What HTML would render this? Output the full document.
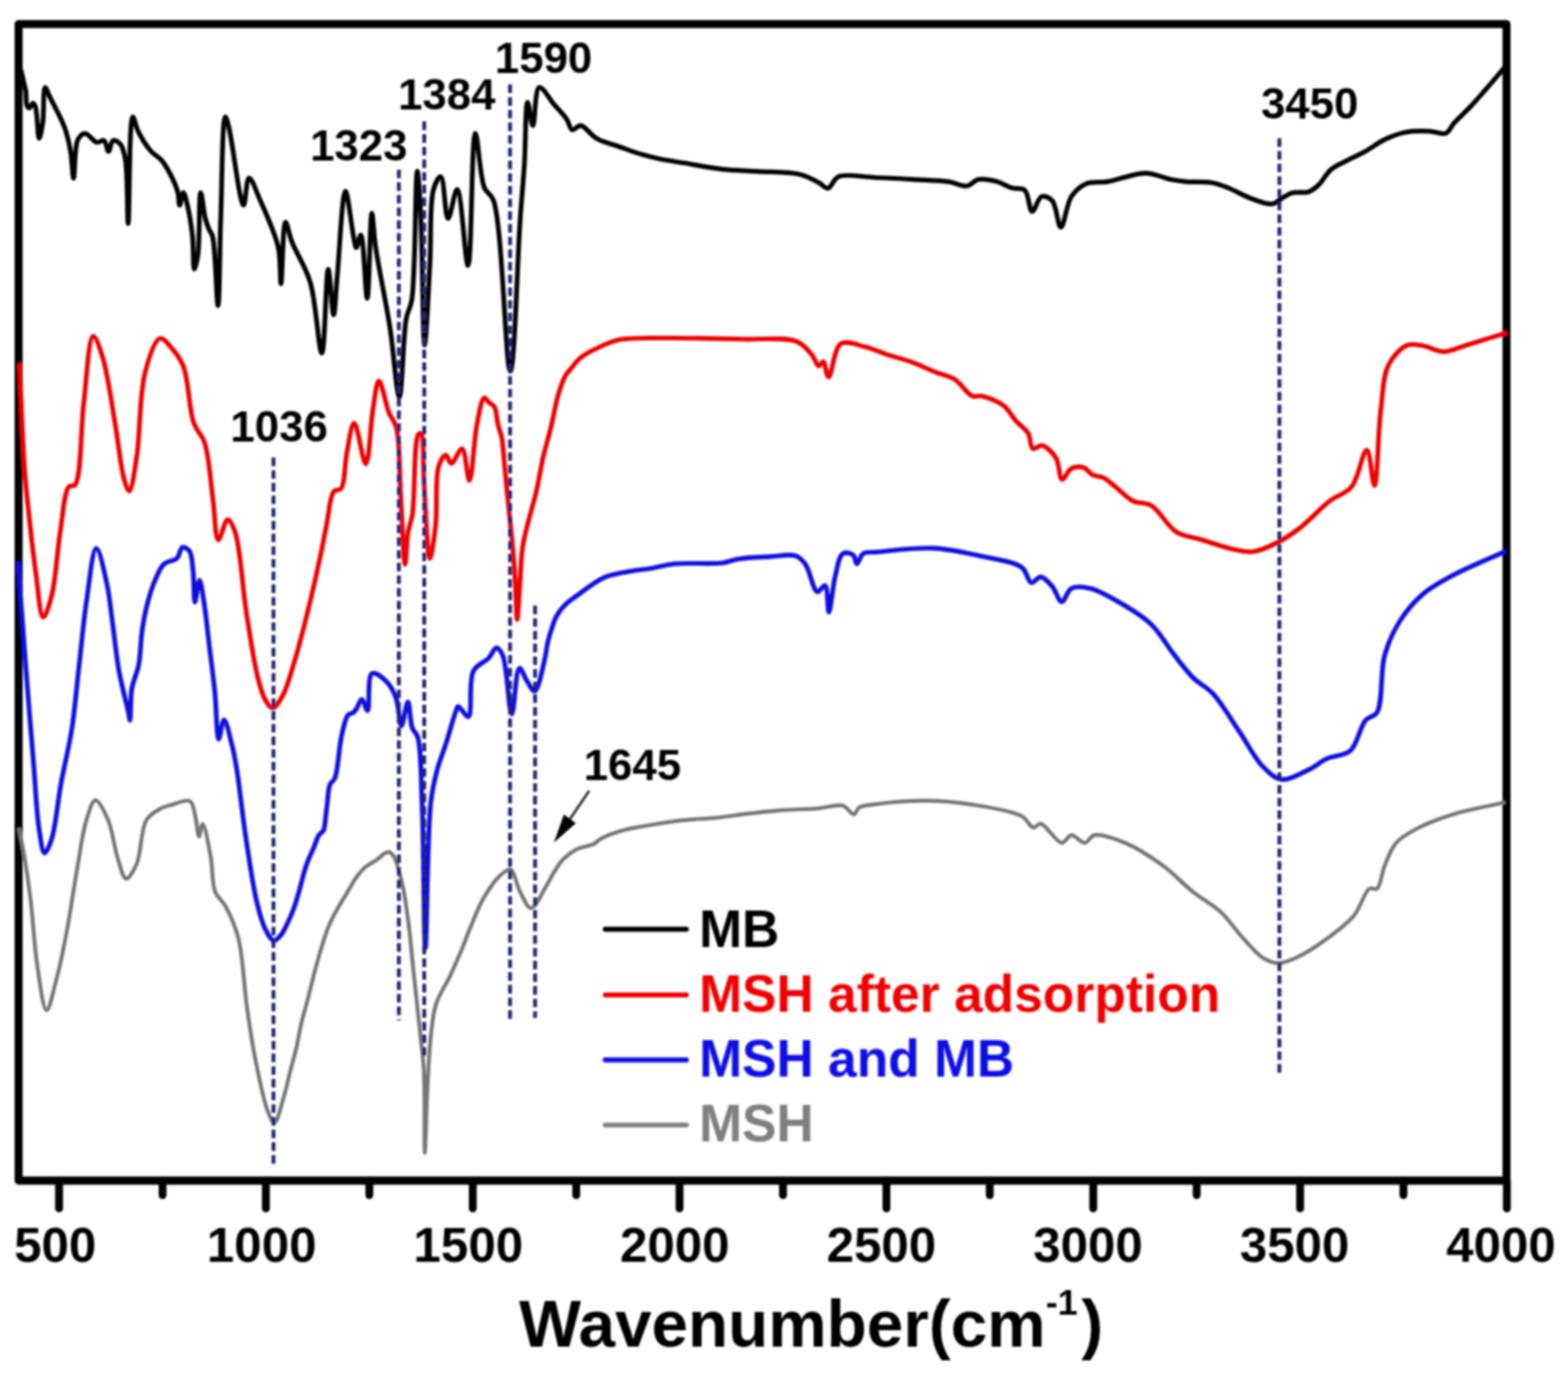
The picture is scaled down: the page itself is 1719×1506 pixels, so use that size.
<!DOCTYPE html><html><head><meta charset="utf-8"><title>FTIR spectra</title>
<style>html,body{margin:0;padding:0;background:#fff;}svg{display:block;}text{font-family:"Liberation Sans",Arial,sans-serif;font-weight:bold;}</style></head><body>
<svg width="1719" height="1506" viewBox="0 0 1719 1506">
<rect x="0" y="0" width="1719" height="1506" fill="#ffffff"/>
<defs><filter id="soft" filterUnits="userSpaceOnUse" x="0" y="0" width="1719" height="1506"><feGaussianBlur stdDeviation="0.90"/></filter></defs>
<g filter="url(#soft)">
<rect x="20.4" y="26.4" width="1631.2" height="1267.6" fill="none" stroke="#000" stroke-width="8.8" stroke-linejoin="round"/>
<path fill="none" stroke="#747474" stroke-width="4.2" stroke-linejoin="round" stroke-linecap="round" d="M21.0,909.0 C22.9,918.7 24.8,927.1 26.6,938.0 C29.0,952.1 31.4,968.8 33.6,986.5 C36.2,1007.6 37.4,1034.8 40.6,1056.2 C43.4,1074.6 47.1,1107.1 51.0,1107.3 C54.2,1107.5 58.2,1087.1 61.5,1074.8 C65.7,1059.3 69.5,1040.4 73.1,1021.3 C77.2,999.6 80.9,973.2 84.7,951.6 C88.0,932.8 90.4,912.6 94.7,899.0 C97.6,889.9 100.7,877.4 104.6,877.1 C108.6,876.8 114.8,890.2 118.6,899.0 C123.4,910.2 125.1,928.4 128.9,940.0 C131.8,948.9 134.4,962.7 138.2,963.2 C141.5,963.6 146.6,954.3 149.8,947.0 C154.9,935.6 154.3,909.1 160.4,899.0 C164.1,892.8 169.5,890.0 174.4,887.1 C178.8,884.5 183.2,883.5 188.3,882.1 C194.3,880.4 203.9,875.7 208.2,878.1 C212.3,880.4 212.6,889.0 214.2,895.1 C216.0,901.9 216.7,916.9 218.2,917.0 C219.4,917.1 220.7,903.0 222.2,903.0 C224.7,903.1 228.8,927.6 231.1,940.0 C233.4,952.3 232.1,967.7 235.8,977.2 C238.5,984.2 243.7,986.8 247.4,993.5 C252.4,1002.7 257.7,1014.2 261.3,1028.3 C266.4,1048.2 267.3,1079.5 270.6,1102.7 C273.5,1123.3 276.0,1141.5 279.9,1160.8 C283.8,1180.2 289.1,1207.2 293.9,1218.9 C296.2,1224.5 298.6,1230.7 300.9,1230.5 C304.5,1230.1 308.7,1209.9 311.7,1200.0 C314.5,1190.8 316.2,1181.8 318.5,1173.0 C320.7,1164.5 323.0,1156.5 325.0,1148.0 C327.0,1139.4 328.2,1130.6 330.3,1121.7 C332.5,1112.5 335.4,1103.3 337.8,1093.8 C340.3,1084.1 342.7,1073.7 345.2,1064.1 C347.6,1055.1 350.0,1046.4 352.6,1038.1 C355.0,1030.4 357.2,1022.8 360.1,1015.8 C362.8,1009.2 365.9,1003.3 369.3,997.2 C372.7,990.9 376.9,984.6 380.5,978.6 C383.8,973.0 386.6,967.3 390.0,962.5 C393.0,958.2 396.6,953.8 399.7,951.0 C402.0,949.0 404.1,947.9 406.3,946.5 C408.5,945.1 410.7,944.1 413.0,942.5 C415.6,940.7 418.4,937.4 420.9,935.9 C422.7,934.8 424.5,933.6 426.2,933.9 C428.1,934.2 430.0,936.3 431.6,938.5 C433.9,941.8 435.3,947.7 436.9,953.1 C438.8,959.5 440.7,967.0 442.2,974.4 C443.8,982.4 445.1,991.7 446.2,999.6 C447.2,1006.6 447.9,1011.7 448.8,1019.5 C450.1,1030.5 451.4,1046.3 452.8,1059.4 C454.1,1072.0 455.5,1084.0 456.8,1096.5 C458.2,1109.1 459.6,1121.9 460.9,1134.7 C462.2,1147.5 463.8,1157.6 464.7,1173.2 C466.0,1197.0 465.0,1263.7 465.7,1263.7 C466.4,1263.7 467.4,1215.0 468.6,1192.5 C469.7,1172.2 470.5,1151.5 472.4,1134.7 C473.9,1121.6 474.6,1111.0 478.2,1100.0 C481.7,1089.2 488.8,1079.6 493.6,1069.3 C498.4,1059.1 503.2,1047.9 507.1,1038.5 C510.4,1030.6 512.2,1024.6 515.6,1016.6 C519.8,1006.6 524.8,993.2 530.7,983.3 C536.1,974.3 543.1,964.2 548.9,959.1 C552.6,955.9 556.4,952.1 559.5,953.1 C564.0,954.6 566.1,970.0 570.1,977.3 C573.7,983.9 577.8,995.4 582.2,995.4 C587.2,995.4 594.0,979.0 598.6,971.7 C602.3,965.7 604.7,960.1 608.0,955.0 C611.0,950.3 613.4,945.9 617.2,942.0 C621.3,937.8 626.6,933.6 632.1,930.8 C637.8,927.9 646.1,927.6 650.8,925.2 C654.0,923.6 654.9,921.5 658.2,919.6 C663.8,916.5 673.9,912.8 682.4,910.3 C691.3,907.7 700.4,906.5 710.4,904.7 C721.9,902.7 735.2,900.5 747.6,899.1 C760.0,897.7 772.4,897.5 784.8,896.3 C797.2,895.1 809.6,893.1 822.0,891.7 C834.4,890.3 846.9,888.8 859.3,887.9 C871.7,887.0 885.1,887.0 896.6,886.1 C906.5,885.3 917.0,881.0 924.0,883.0 C929.2,884.5 932.9,893.0 936.1,892.6 C938.6,892.3 939.2,886.8 942.1,885.0 C945.7,882.8 950.2,882.8 956.8,881.9 C969.8,880.1 996.6,877.6 1015.4,877.7 C1032.8,877.8 1048.7,879.2 1065.7,881.9 C1083.6,884.7 1108.8,888.3 1120.1,894.5 C1126.5,898.0 1128.7,906.4 1132.7,907.0 C1135.6,907.5 1137.7,902.4 1141.0,902.8 C1147.0,903.6 1157.8,923.6 1164.1,923.8 C1168.2,923.9 1170.7,915.7 1174.6,915.4 C1179.0,915.1 1184.8,924.1 1189.2,923.8 C1193.1,923.5 1194.9,916.5 1199.7,915.4 C1207.4,913.7 1221.8,919.1 1233.2,923.8 C1246.8,929.4 1262.3,939.6 1275.1,948.9 C1287.3,957.8 1297.6,969.5 1308.6,978.2 C1318.5,986.0 1329.0,991.0 1337.9,999.2 C1347.2,1007.7 1354.8,1019.7 1363.0,1028.5 C1370.2,1036.2 1376.9,1044.8 1384.0,1049.4 C1389.5,1052.9 1394.8,1055.5 1400.7,1055.7 C1407.3,1055.9 1414.1,1052.8 1421.7,1049.4 C1431.9,1044.8 1444.7,1036.2 1455.2,1028.5 C1465.6,1020.9 1476.7,1012.8 1484.5,1003.4 C1491.8,994.5 1495.7,977.2 1501.3,974.0 C1504.1,972.4 1507.3,975.7 1509.6,974.0 C1513.8,971.0 1514.6,957.1 1518.0,948.9 C1521.5,940.4 1524.5,930.7 1530.6,923.8 C1536.9,916.6 1546.2,912.0 1555.7,907.0 C1566.7,901.3 1579.5,896.7 1593.4,892.4 C1609.9,887.4 1630.1,884.0 1648.5,879.8"/>
<path fill="none" stroke="#0c0ae0" stroke-width="5.1" stroke-linejoin="round" stroke-linecap="round" d="M20.0,617.3 C21.0,631.5 21.8,643.6 23.0,660.0 C24.6,682.5 26.8,711.7 29.0,739.7 C31.4,771.1 34.5,809.1 37.0,839.3 C39.1,864.6 40.1,891.5 42.9,909.0 C44.6,919.8 46.2,934.6 48.9,934.9 C51.1,935.2 54.5,926.2 56.8,919.0 C61.1,905.6 63.2,879.1 66.8,859.2 C70.5,839.2 75.4,820.2 78.7,799.4 C82.2,777.1 84.0,752.9 86.7,729.7 C89.4,706.5 91.4,682.2 94.7,660.0 C97.8,639.5 101.4,601.2 105.6,601.0 C109.1,600.8 114.4,627.2 117.3,640.5 C120.2,653.6 121.0,665.7 123.0,680.0 C125.4,697.0 127.4,718.3 130.5,735.7 C133.3,751.2 138.5,770.0 140.5,779.5 C141.5,784.0 141.9,789.5 142.5,789.5 C143.5,789.4 142.7,765.6 144.5,755.0 C146.1,745.6 150.1,738.6 152.0,729.0 C154.2,717.4 154.2,702.1 156.0,690.0 C157.6,679.3 159.5,669.4 162.0,660.0 C164.3,651.5 166.8,643.3 170.0,636.0 C172.9,629.4 175.5,622.0 180.0,618.0 C183.8,614.5 190.6,615.2 194.0,612.0 C197.2,609.0 197.3,600.9 200.0,600.0 C202.1,599.3 205.8,601.4 207.7,604.0 C210.8,608.1 210.7,617.8 211.7,626.0 C212.9,636.1 212.3,659.9 213.7,660.0 C214.9,660.1 217.0,636.0 218.7,636.0 C220.3,636.0 222.1,650.6 223.6,660.0 C225.8,673.4 227.6,692.6 229.6,709.0 C231.6,725.6 233.9,742.2 235.6,759.0 C237.3,775.9 237.5,809.8 239.8,810.0 C241.3,810.1 243.4,789.0 245.6,789.0 C248.1,789.0 251.7,806.4 254.0,815.4 C256.4,824.5 257.7,831.9 259.6,843.4 C262.6,861.7 265.5,891.2 269.1,915.1 C272.7,939.0 276.7,967.9 281.1,986.8 C284.1,999.4 286.6,1010.0 290.6,1017.9 C293.4,1023.5 296.9,1030.5 300.2,1031.0 C302.7,1031.4 305.5,1027.8 307.9,1025.0 C311.1,1021.3 313.8,1014.6 316.3,1009.5 C318.6,1004.7 320.5,1000.0 322.3,995.1 C324.1,990.1 325.6,985.0 327.1,979.6 C328.8,973.8 330.3,967.4 331.9,961.6 C333.4,956.2 334.7,951.3 336.6,946.1 C338.6,940.6 341.5,934.8 343.8,929.4 C345.9,924.4 347.5,918.4 349.8,915.0 C351.3,912.8 353.4,912.5 354.6,910.2 C356.3,906.9 356.3,900.8 357.0,895.9 C357.7,890.8 358.1,885.8 358.8,880.3 C359.6,874.0 359.7,864.8 361.7,860.0 C363.0,856.8 365.5,856.6 367.1,853.0 C370.7,844.7 371.4,820.2 374.3,807.6 C376.4,798.3 378.1,787.6 381.5,783.7 C383.2,781.7 385.8,782.2 387.4,780.9 C388.9,779.7 389.8,778.3 391.0,776.5 C392.6,774.0 394.4,767.7 395.8,766.9 C396.3,766.6 396.8,766.6 397.3,767.0 C398.9,768.1 401.5,779.2 403.0,778.9 C405.7,778.4 402.4,741.1 407.7,738.2 C411.0,736.4 418.0,741.6 422.1,745.4 C427.0,749.9 431.1,757.0 434.0,764.5 C437.5,773.3 437.7,795.5 440.0,795.6 C442.1,795.7 445.2,769.2 447.2,769.3 C449.2,769.4 449.4,791.2 452.0,798.0 C453.6,802.3 456.3,802.6 457.9,807.6 C461.9,820.2 461.4,850.7 462.7,879.3 C464.6,922.0 464.7,1039.0 466.3,1039.0 C467.9,1039.0 468.3,913.4 472.3,879.3 C474.2,863.0 476.4,854.6 479.4,843.4 C482.1,833.2 485.8,824.8 489.0,814.7 C492.6,803.4 497.5,785.1 500.0,778.9 C500.9,776.6 501.0,774.5 502.3,774.3 C504.5,773.9 510.7,786.5 513.5,785.5 C518.4,783.8 513.2,746.1 519.1,735.2 C523.0,728.0 531.5,725.9 535.9,721.2 C539.4,717.5 541.5,710.2 544.2,710.1 C546.6,710.0 549.2,714.0 551.2,718.5 C556.2,729.6 557.8,782.7 561.0,782.7 C563.8,782.7 565.3,733.2 569.4,732.4 C571.7,732.0 574.8,742.1 577.7,746.4 C580.4,750.4 583.5,758.0 586.1,757.6 C590.4,756.9 594.9,731.9 597.3,722.0 C599.0,715.1 599.1,709.8 600.5,704.0 C601.8,698.5 603.5,693.0 605.2,688.0 C606.7,683.5 607.8,679.5 610.0,675.5 C612.4,671.2 615.4,667.1 619.2,663.3 C623.5,658.9 628.9,655.4 634.9,651.1 C642.4,645.7 652.0,637.7 661.1,633.6 C669.5,629.8 678.5,628.5 687.3,626.7 C696.0,625.0 704.7,624.4 713.4,623.0 C722.1,621.5 729.3,619.1 739.6,618.0 C754.0,616.5 779.3,618.7 792.0,617.0 C799.4,616.0 802.5,613.8 809.4,612.7 C819.0,611.2 833.3,610.7 844.3,610.1 C854.1,609.6 865.4,606.8 872.2,609.2 C877.1,610.9 879.7,614.0 883.0,618.5 C888.0,625.3 891.4,647.5 896.1,648.6 C898.8,649.2 902.4,640.9 904.5,641.7 C907.9,643.0 907.0,671.0 908.7,671.0 C910.6,671.0 912.7,643.4 915.6,631.9 C918.0,622.5 919.4,609.7 924.0,606.8 C927.0,604.9 932.6,606.3 935.2,608.2 C937.7,610.1 937.7,617.8 939.4,617.9 C941.3,618.0 942.9,609.0 946.3,606.8 C949.9,604.5 954.3,605.7 960.9,605.1 C974.5,603.9 1004.1,599.9 1023.8,600.9 C1041.5,601.8 1057.7,605.7 1074.0,609.3 C1089.8,612.8 1110.8,615.0 1120.1,621.9 C1126.1,626.3 1126.6,637.6 1130.6,638.6 C1133.7,639.4 1137.5,632.1 1141.0,632.4 C1145.1,632.7 1149.9,638.6 1153.6,642.8 C1157.7,647.5 1160.5,659.5 1164.1,659.6 C1167.5,659.7 1169.7,647.4 1174.6,644.9 C1179.9,642.2 1187.8,643.1 1195.5,644.9 C1206.5,647.5 1221.7,656.9 1233.2,663.8 C1243.9,670.2 1253.7,676.1 1262.5,684.7 C1272.0,694.0 1279.5,707.9 1287.6,718.2 C1294.8,727.3 1301.2,736.2 1308.6,743.4 C1315.3,749.9 1322.5,752.6 1329.5,760.1 C1339.2,770.4 1349.5,788.4 1358.8,802.0 C1367.6,814.9 1375.1,830.6 1384.0,839.7 C1390.7,846.5 1397.0,853.2 1404.9,854.3 C1413.6,855.5 1425.4,848.0 1434.2,843.9 C1442.0,840.2 1447.7,834.8 1455.2,831.3 C1463.0,827.7 1473.6,828.7 1480.3,822.9 C1488.3,816.0 1490.9,796.4 1497.1,789.4 C1501.0,784.9 1506.4,786.2 1509.6,781.0 C1516.3,770.3 1512.9,736.2 1518.0,718.2 C1522.1,703.7 1527.6,691.8 1534.8,680.5 C1541.7,669.6 1550.2,659.5 1559.9,651.2 C1569.7,642.8 1580.6,637.2 1593.4,630.3 C1609.3,621.8 1630.1,613.5 1648.5,605.1"/>
<path fill="none" stroke="#ee0505" stroke-width="5.1" stroke-linejoin="round" stroke-linecap="round" d="M21.5,400.0 C22.2,416.0 22.7,430.7 23.5,448.0 C24.5,468.5 25.4,493.6 27.0,515.0 C28.5,534.8 30.5,553.1 32.6,572.0 C34.6,590.8 36.7,610.0 39.3,628.0 C41.7,644.8 43.7,676.1 47.3,676.5 C50.0,676.8 54.1,662.5 56.8,652.0 C61.2,634.9 62.7,603.5 66.1,582.4 C69.0,564.6 70.2,539.6 75.4,533.6 C77.4,531.3 80.4,533.8 82.4,531.3 C89.4,522.7 88.3,471.1 91.7,443.0 C94.9,417.1 97.0,369.3 102.1,368.6 C105.1,368.2 109.4,381.6 112.6,391.8 C118.1,409.3 122.5,442.9 126.5,466.2 C130.1,486.7 132.2,511.7 135.8,524.3 C137.6,530.7 139.8,538.4 141.7,538.2 C144.7,537.9 147.4,516.3 149.8,501.0 C153.6,477.1 152.9,431.7 159.1,408.1 C163.2,392.5 169.4,372.4 175.4,370.9 C179.0,370.0 183.3,376.1 187.0,380.2 C191.9,385.5 197.1,391.8 200.9,401.1 C206.9,416.0 207.1,448.9 212.5,463.9 C215.8,473.1 221.1,475.6 224.2,484.8 C229.3,499.8 230.8,528.4 233.5,547.5 C235.7,563.5 235.8,591.2 239.3,591.7 C241.9,592.1 246.3,569.7 249.7,569.6 C252.5,569.5 255.5,576.7 257.9,583.7 C263.5,599.9 265.6,642.3 269.8,669.3 C273.6,693.8 277.6,721.5 281.8,739.0 C284.4,749.9 286.3,758.4 289.8,765.0 C292.3,769.7 295.6,775.9 298.7,775.9 C302.2,775.9 306.4,768.7 309.7,763.0 C314.5,754.7 317.6,742.0 321.6,729.0 C326.9,712.0 332.8,688.7 337.6,669.3 C342.2,650.9 346.4,632.0 350.0,615.3 C353.1,601.0 355.3,588.4 358.0,575.4 C360.6,562.9 361.4,544.2 366.0,538.7 C368.2,536.1 371.8,538.2 373.9,535.5 C378.5,529.7 377.7,508.2 380.3,495.7 C382.6,484.4 385.2,463.8 388.3,463.8 C392.0,463.7 397.7,508.6 401.0,508.4 C404.8,508.1 406.1,464.5 409.0,447.8 C411.0,435.9 412.7,417.6 415.4,417.5 C418.4,417.4 422.7,443.3 426.5,452.6 C429.1,459.1 432.5,461.0 434.5,468.6 C438.7,484.1 437.7,518.5 439.3,543.5 C440.9,568.5 442.5,618.5 444.1,618.5 C445.2,618.5 445.6,593.3 447.3,583.4 C448.6,576.0 450.7,573.0 452.1,564.2 C455.1,545.6 453.6,483.5 458.4,476.5 C459.4,475.1 460.7,474.5 461.6,475.0 C465.1,477.1 463.5,508.0 464.8,527.6 C466.5,552.4 468.4,612.0 471.2,612.1 C473.0,612.2 476.0,589.4 477.6,575.4 C479.6,557.1 476.8,524.4 480.8,511.6 C482.7,505.4 486.2,498.9 488.7,498.9 C490.8,498.9 492.4,508.0 494.8,508.0 C498.0,508.1 503.4,491.1 506.5,491.7 C510.6,492.5 512.2,526.7 514.6,526.6 C517.8,526.4 519.4,482.8 522.7,466.2 C525.1,454.3 527.6,436.9 530.9,436.0 C532.5,435.6 534.2,439.4 536.0,441.0 C537.9,442.7 540.4,443.3 542.0,445.8 C544.5,449.9 544.5,459.7 546.0,465.7 C547.2,470.8 548.9,473.8 550.0,479.7 C551.9,489.5 552.7,506.2 554.0,519.5 C555.3,532.8 556.7,546.1 558.0,559.4 C559.3,572.7 560.8,585.9 562.0,599.2 C563.2,612.5 564.2,625.7 565.0,639.0 C565.8,652.3 566.2,679.0 567.0,679.0 C567.8,679.0 569.0,652.3 570.0,639.0 C571.0,625.7 571.2,611.5 573.0,599.2 C574.6,588.5 577.3,579.2 579.8,569.3 C582.3,559.3 585.3,550.1 587.8,539.4 C590.7,527.1 592.9,511.9 595.8,499.6 C598.3,488.9 601.2,480.1 603.7,469.7 C606.5,458.3 608.7,444.3 611.7,433.9 C614.1,425.6 616.7,417.3 619.7,412.0 C621.7,408.5 623.6,406.9 626.0,404.0 C629.0,400.4 632.1,395.6 636.6,392.0 C642.1,387.5 650.2,383.5 657.5,380.2 C664.9,376.9 671.4,373.8 680.7,372.1 C693.7,369.7 710.5,370.7 728.9,370.5 C753.3,370.3 788.6,371.1 814.4,371.8 C835.8,372.4 859.8,369.0 873.0,374.2 C881.2,377.4 885.9,383.9 890.1,388.9 C893.5,392.9 895.0,400.8 897.4,401.1 C899.1,401.3 900.8,395.9 902.3,396.2 C904.7,396.7 905.9,413.3 908.4,413.3 C912.0,413.3 914.0,381.3 921.9,376.6 C928.5,372.7 940.1,378.2 948.7,380.3 C957.2,382.3 965.0,386.2 973.2,388.9 C981.3,391.5 989.2,393.2 997.6,396.2 C1007.0,399.6 1018.1,404.9 1026.9,408.4 C1034.1,411.2 1040.3,411.9 1046.5,415.7 C1053.5,420.0 1060.2,431.8 1066.0,434.1 C1069.5,435.5 1071.9,433.3 1075.8,434.1 C1082.2,435.4 1093.7,439.6 1100.2,444.5 C1106.0,448.9 1109.1,456.1 1113.7,461.3 C1118.1,466.2 1124.1,469.6 1127.2,474.8 C1130.2,479.8 1129.1,490.1 1132.3,491.7 C1134.8,493.0 1138.9,487.6 1142.4,488.3 C1147.2,489.3 1154.0,496.0 1157.6,501.8 C1161.6,508.2 1161.0,524.8 1164.4,525.5 C1167.1,526.1 1170.4,515.7 1174.5,513.6 C1178.3,511.6 1184.1,511.3 1188.0,512.5 C1191.7,513.7 1194.0,518.6 1197.6,520.4 C1201.2,522.2 1205.7,521.7 1209.5,523.5 C1213.7,525.5 1217.0,529.0 1221.5,532.5 C1227.5,537.1 1234.8,545.5 1242.0,549.1 C1248.4,552.3 1255.5,550.2 1262.2,554.1 C1271.4,559.5 1279.3,576.6 1289.2,582.8 C1297.6,588.0 1306.7,588.3 1316.2,591.2 C1326.8,594.5 1339.6,599.1 1349.9,601.4 C1358.4,603.3 1365.5,605.6 1373.5,604.7 C1382.3,603.7 1392.0,598.9 1400.5,594.6 C1408.9,590.4 1415.9,585.7 1424.2,579.4 C1434.8,571.4 1447.4,557.2 1457.9,549.1 C1466.2,542.8 1475.1,541.5 1481.5,533.9 C1489.5,524.4 1494.1,493.0 1498.4,493.4 C1502.4,493.8 1504.5,532.3 1506.8,532.2 C1510.1,532.0 1510.6,475.0 1513.6,451.2 C1516.0,432.3 1515.8,413.3 1522.0,400.6 C1526.7,390.9 1535.0,381.8 1542.2,378.7 C1547.6,376.3 1553.1,377.9 1559.1,378.7 C1566.4,379.7 1574.8,385.4 1582.7,385.4 C1590.6,385.4 1597.3,381.4 1606.4,378.7 C1618.8,375.0 1635.6,369.7 1650.2,365.2"/>
<path fill="none" stroke="#000000" stroke-width="5.2" stroke-linejoin="round" stroke-linecap="round" d="M20.5,72.0 C21.3,73.8 22.2,75.1 23.0,77.3 C24.1,80.6 25.1,86.0 26.0,90.0 C26.8,93.5 27.7,96.3 28.3,100.0 C29.0,104.6 28.2,112.9 29.6,115.8 C30.3,117.2 31.4,118.5 32.3,118.4 C33.5,118.3 35.0,113.1 36.2,113.1 C37.2,113.1 38.1,115.0 38.9,117.1 C41.0,122.8 41.3,151.5 42.9,151.6 C44.1,151.7 45.9,141.3 46.9,134.4 C48.4,124.2 47.1,96.4 49.5,95.9 C50.8,95.6 52.6,102.0 54.8,106.5 C58.7,114.5 67.0,129.1 70.8,139.7 C74.1,148.9 75.8,157.1 77.4,166.2 C79.1,175.7 79.5,195.5 80.7,195.5 C82.1,195.5 81.3,160.7 85.4,153.0 C87.4,149.2 90.4,146.4 93.4,146.3 C97.1,146.2 102.1,155.2 106.0,156.0 C108.8,156.6 111.9,153.0 114.0,154.0 C116.6,155.3 117.3,166.0 119.0,166.0 C120.7,166.0 121.5,154.9 124.0,154.0 C126.1,153.2 129.9,155.6 132.0,158.0 C135.0,161.5 136.1,167.3 137.5,175.0 C140.2,190.3 139.4,245.0 140.5,245.0 C142.0,245.0 141.3,128.7 145.5,128.0 C147.1,127.7 148.7,138.4 151.5,144.0 C154.9,150.8 160.5,160.0 165.4,165.6 C169.1,169.9 173.4,171.3 177.0,175.5 C181.4,180.7 185.9,189.1 189.0,195.5 C191.6,200.9 193.7,205.9 195.0,211.0 C196.2,215.7 196.0,224.9 197.0,225.0 C198.0,225.1 199.6,211.0 201.0,211.0 C202.3,211.0 203.7,217.9 205.0,223.0 C207.2,231.7 209.7,247.0 211.0,259.0 C212.3,271.0 211.6,294.9 213.0,295.0 C214.0,295.1 215.9,286.3 217.0,279.0 C219.1,264.3 218.0,211.1 220.0,211.0 C221.3,210.9 223.1,231.7 225.0,239.0 C226.2,243.9 227.5,247.5 229.0,251.0 C230.2,254.0 231.8,254.8 233.0,259.0 C236.4,271.3 237.5,335.0 239.0,335.0 C240.7,335.0 240.7,272.2 242.0,239.0 C243.4,203.3 243.6,128.5 247.0,128.0 C248.1,127.8 249.5,134.1 251.0,140.0 C255.0,155.4 262.9,225.0 267.0,225.0 C269.4,225.0 269.8,195.4 273.0,195.0 C276.0,194.6 280.7,209.3 285.0,219.0 C291.1,232.9 301.3,254.5 305.0,271.0 C308.1,285.0 306.9,311.0 308.0,311.0 C309.5,311.0 309.8,243.9 313.0,243.5 C314.8,243.3 316.8,256.7 320.0,265.0 C324.7,277.2 334.8,291.8 340.0,309.0 C346.7,330.9 349.5,387.1 352.8,387.0 C356.3,386.8 357.3,295.1 359.8,295.0 C361.7,295.0 364.0,345.0 365.7,345.0 C367.3,345.0 368.1,319.8 369.7,303.0 C372.1,278.0 375.1,209.7 378.7,209.6 C381.3,209.5 385.3,248.5 387.6,259.4 C388.8,264.8 389.3,271.3 390.6,271.4 C392.0,271.5 394.1,257.3 395.6,257.5 C398.8,257.9 400.7,327.0 402.6,327.0 C404.8,326.9 405.6,233.6 407.6,233.5 C408.8,233.5 409.5,254.8 411.6,269.4 C414.9,292.6 423.0,330.3 427.5,359.0 C431.6,385.3 434.9,435.1 437.8,435.0 C440.9,434.9 441.8,367.5 445.4,349.0 C447.2,339.9 449.7,338.8 451.4,329.0 C455.7,303.4 455.3,187.7 457.4,187.7 C458.7,187.7 460.3,218.1 461.4,239.5 C463.3,274.5 463.6,378.0 465.5,378.0 C467.1,378.0 469.6,318.0 471.3,289.0 C472.9,261.3 470.7,223.2 475.3,207.6 C477.3,200.7 481.0,193.3 483.3,193.7 C487.1,194.4 487.9,239.3 491.2,239.5 C494.0,239.7 498.2,207.4 501.2,207.6 C506.0,208.0 510.0,291.1 513.1,291.0 C517.2,290.8 516.9,146.2 521.1,146.0 C523.8,145.9 525.8,193.1 531.0,205.7 C533.8,212.4 538.0,211.7 541.0,219.6 C550.9,245.9 554.4,407.1 559.4,407.0 C564.1,406.9 567.3,281.8 570.3,240.0 C572.1,214.8 573.6,200.3 574.9,179.6 C576.3,157.7 576.0,112.2 578.4,112.0 C579.9,111.9 582.3,137.8 584.2,137.7 C586.6,137.6 586.2,97.2 591.2,95.8 C595.1,94.7 602.3,108.5 607.5,114.5 C612.3,120.1 618.0,125.6 621.4,130.8 C624.1,134.8 624.5,141.5 627.3,142.4 C629.8,143.2 633.2,137.3 636.6,137.7 C641.7,138.2 647.3,147.9 654.0,151.7 C661.4,155.9 671.3,158.0 679.6,161.0 C687.5,163.8 695.5,166.9 702.9,169.1 C709.4,171.0 714.6,172.4 721.5,173.8 C729.8,175.6 739.2,176.8 749.4,178.5 C761.9,180.6 777.5,183.8 791.3,185.4 C804.6,186.9 817.2,186.9 830.9,187.8 C845.8,188.8 865.2,188.2 877.4,191.3 C886.0,193.5 892.8,197.7 898.3,200.6 C902.1,202.6 904.5,206.8 907.6,206.4 C911.5,205.9 913.5,196.1 919.3,193.6 C928.0,189.9 944.7,194.0 958.2,194.5 C973.0,195.0 990.3,196.0 1004.7,196.8 C1017.2,197.5 1029.5,197.6 1039.6,199.1 C1047.5,200.2 1054.8,204.7 1060.6,203.8 C1065.2,203.0 1067.6,197.8 1072.2,196.8 C1078.0,195.5 1086.7,197.4 1093.1,199.1 C1099.0,200.7 1104.1,204.5 1109.4,206.1 C1114.2,207.5 1119.9,205.4 1123.4,208.4 C1128.1,212.3 1128.1,231.3 1131.5,231.7 C1134.5,232.1 1137.8,216.8 1142.0,215.4 C1145.4,214.3 1150.5,216.6 1153.6,220.0 C1158.5,225.2 1159.7,249.1 1163.0,249.1 C1166.6,249.1 1169.0,223.7 1174.6,215.4 C1179.0,209.0 1184.5,204.1 1190.9,201.4 C1197.6,198.5 1205.3,200.5 1214.1,199.1 C1226.1,197.2 1243.5,189.6 1256.0,189.8 C1266.3,189.9 1275.9,195.2 1284.0,196.8 C1290.0,198.0 1293.9,198.5 1300.0,199.1 C1308.1,199.9 1320.3,198.9 1328.6,200.3 C1335.3,201.5 1339.9,203.3 1346.3,205.8 C1354.3,208.9 1364.2,215.0 1372.8,218.0 C1380.4,220.7 1389.0,224.4 1395.0,223.5 C1399.5,222.8 1402.3,218.9 1406.0,216.8 C1409.6,214.8 1412.8,212.4 1417.0,211.3 C1422.1,209.9 1429.7,211.9 1434.7,210.2 C1439.1,208.7 1442.2,205.9 1445.8,202.5 C1450.3,198.3 1453.6,190.5 1459.0,185.9 C1464.6,181.2 1472.5,178.2 1479.0,174.8 C1485.0,171.6 1490.5,169.4 1496.6,166.0 C1503.6,162.1 1511.1,156.2 1518.7,152.7 C1525.9,149.3 1533.0,146.5 1540.8,145.0 C1549.1,143.4 1559.5,143.6 1567.4,143.9 C1573.9,144.2 1580.5,147.9 1585.0,146.1 C1589.1,144.5 1590.4,139.0 1594.0,135.0 C1598.8,129.7 1605.8,123.5 1611.6,117.4 C1617.6,111.1 1623.1,104.6 1629.3,97.5 C1636.2,89.6 1643.8,80.5 1651.0,72.0"/>
<line x1="437.3" y1="185.9" x2="437.3" y2="1118.6" stroke="#23236e" stroke-width="4.2" stroke-dasharray="9.4 4.5"/>
<line x1="465.1" y1="133.1" x2="465.1" y2="1157.0" stroke="#23236e" stroke-width="4.2" stroke-dasharray="9.4 4.5"/>
<line x1="559.2" y1="92.6" x2="559.2" y2="1118.6" stroke="#23236e" stroke-width="4.2" stroke-dasharray="9.4 4.5"/>
<line x1="586.6" y1="663.8" x2="586.6" y2="1115.8" stroke="#23236e" stroke-width="4.2" stroke-dasharray="9.4 4.5"/>
<line x1="299.8" y1="501.5" x2="299.8" y2="1279.3" stroke="#23236e" stroke-width="4.2" stroke-dasharray="9.4 4.5"/>
<line x1="1402.6" y1="151.6" x2="1402.6" y2="1180.0" stroke="#23236e" stroke-width="4.2" stroke-dasharray="9.4 4.5"/>
<line x1="64.8" y1="1294.0" x2="64.8" y2="1324.5" stroke="#000" stroke-width="8.6" stroke-linecap="round"/>
<line x1="178.2" y1="1294.0" x2="178.2" y2="1310.0" stroke="#000" stroke-width="8.6" stroke-linecap="round"/>
<line x1="291.5" y1="1294.0" x2="291.5" y2="1324.5" stroke="#000" stroke-width="8.6" stroke-linecap="round"/>
<line x1="404.9" y1="1294.0" x2="404.9" y2="1310.0" stroke="#000" stroke-width="8.6" stroke-linecap="round"/>
<line x1="518.3" y1="1294.0" x2="518.3" y2="1324.5" stroke="#000" stroke-width="8.6" stroke-linecap="round"/>
<line x1="631.7" y1="1294.0" x2="631.7" y2="1310.0" stroke="#000" stroke-width="8.6" stroke-linecap="round"/>
<line x1="745.0" y1="1294.0" x2="745.0" y2="1324.5" stroke="#000" stroke-width="8.6" stroke-linecap="round"/>
<line x1="858.4" y1="1294.0" x2="858.4" y2="1310.0" stroke="#000" stroke-width="8.6" stroke-linecap="round"/>
<line x1="971.8" y1="1294.0" x2="971.8" y2="1324.5" stroke="#000" stroke-width="8.6" stroke-linecap="round"/>
<line x1="1085.1" y1="1294.0" x2="1085.1" y2="1310.0" stroke="#000" stroke-width="8.6" stroke-linecap="round"/>
<line x1="1198.5" y1="1294.0" x2="1198.5" y2="1324.5" stroke="#000" stroke-width="8.6" stroke-linecap="round"/>
<line x1="1311.9" y1="1294.0" x2="1311.9" y2="1310.0" stroke="#000" stroke-width="8.6" stroke-linecap="round"/>
<line x1="1425.3" y1="1294.0" x2="1425.3" y2="1324.5" stroke="#000" stroke-width="8.6" stroke-linecap="round"/>
<line x1="1538.6" y1="1294.0" x2="1538.6" y2="1310.0" stroke="#000" stroke-width="8.6" stroke-linecap="round"/>
<line x1="1652.0" y1="1294.0" x2="1652.0" y2="1324.5" stroke="#000" stroke-width="8.6" stroke-linecap="round"/>
<text x="60.5" y="1382.8" font-size="54" text-anchor="middle" fill="#000">500</text>
<text x="286.9" y="1382.8" font-size="54" text-anchor="middle" fill="#000">1000</text>
<text x="513.4" y="1382.8" font-size="54" text-anchor="middle" fill="#000">1500</text>
<text x="739.8" y="1382.8" font-size="54" text-anchor="middle" fill="#000">2000</text>
<text x="966.3" y="1382.8" font-size="54" text-anchor="middle" fill="#000">2500</text>
<text x="1192.8" y="1382.8" font-size="54" text-anchor="middle" fill="#000">3000</text>
<text x="1419.2" y="1382.8" font-size="54" text-anchor="middle" fill="#000">3500</text>
<text x="1645.6" y="1382.8" font-size="54" text-anchor="middle" fill="#000">4000</text>
<text x="568.9" y="1476.3" font-size="72" fill="#000">Wavenumber(cm<tspan font-size="39.5" dy="-35.6">-1</tspan><tspan dx="4" dy="35.6">)</tspan></text>
<text x="393.3" y="176.3" font-size="48" text-anchor="middle" fill="#000">1323</text>
<text x="489.8" y="119.7" font-size="48" text-anchor="middle" fill="#000">1384</text>
<text x="595.9" y="80.3" font-size="48" text-anchor="middle" fill="#000">1590</text>
<text x="306.0" y="484.2" font-size="48" text-anchor="middle" fill="#000">1036</text>
<text x="1435.8" y="129.5" font-size="48" text-anchor="middle" fill="#000">3450</text>
<text x="693.3" y="854.8" font-size="48" text-anchor="middle" fill="#000">1645</text>
<line x1="645.9" y1="866.7" x2="624" y2="899" stroke="#222" stroke-width="2.6"/>
<polygon points="607.3,923.5 618.2,892.8 631.2,902.2" fill="#000"/>
<line x1="663.5" y1="1018.5" x2="752.5" y2="1018.5" stroke="#000000" stroke-width="5.4" stroke-linecap="round"/>
<text x="766.5" y="1037.7" font-size="56.5" fill="#000000">MB</text>
<line x1="663.5" y1="1090.5" x2="752.5" y2="1090.5" stroke="#f00505" stroke-width="5.4" stroke-linecap="round"/>
<text x="766.5" y="1108.5" font-size="56.5" fill="#f00505">MSH after adsorption</text>
<line x1="663.5" y1="1161.8" x2="752.5" y2="1161.8" stroke="#0c0ae6" stroke-width="5.4" stroke-linecap="round"/>
<text x="766.5" y="1180.0" font-size="56.5" fill="#0c0ae6">MSH and MB</text>
<line x1="663.5" y1="1233.1" x2="752.5" y2="1233.1" stroke="#7f7f7f" stroke-width="5.4" stroke-linecap="round"/>
<text x="766.5" y="1250.8" font-size="56.5" fill="#7f7f7f">MSH</text>
</g>
</svg></body></html>
